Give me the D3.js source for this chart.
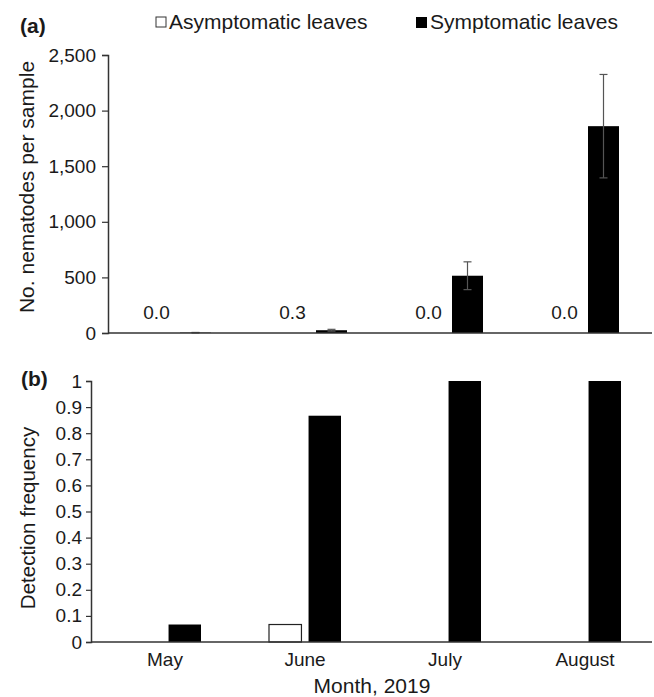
<!DOCTYPE html>
<html><head><meta charset="utf-8">
<script src="https://cdn.jsdelivr.net/npm/d3@7"></script>
<style>
body{margin:0;background:#fff;}
text{font-family:"Liberation Sans",Arial,sans-serif;fill:#1a1a1a;}
</style></head>
<body>
<svg id="c" width="654" height="697"></svg>
<script>
const months = ["May","June","July","August"];
const seriesNames = ["Asymptomatic leaves","Symptomatic leaves"];
const asymCount = [0.0, 0.3, 0.0, 0.0];
const symCount = [3, 25, 515, 1860];
const symCountErr = [2, 8, 125, 465];
const asymFreq = [0, 0.067, 0, 0];
const symFreq = [0.067, 0.867, 1, 1];
const countTicks = [0,500,1000,1500,2000,2500];
const freqTicks = [0,0.1,0.2,0.3,0.4,0.5,0.6,0.7,0.8,0.9,1];

const svg = d3.select("#c");
const axisColor = "#333";

// ---------- Panel (a) ----------
const xa = d3.scaleBand().domain(months).range([108, 652]);
const xa1 = d3.scaleBand().domain(["asym","sym"]).range([-35, 35]).paddingInner(8/39);
const ya = d3.scaleLinear().domain([0, 2500]).range([333, 55]);

const ga = svg.append("g");
ga.selectAll("rect.sym").data(months).join("rect")
  .attr("x", d => xa(d) + xa.bandwidth()/2 + xa1("sym"))
  .attr("width", xa1.bandwidth())
  .attr("y", (d,i) => ya(symCount[i]))
  .attr("height", (d,i) => ya(0) - ya(symCount[i]))
  .attr("fill", "#000");
const eb = ga.selectAll("g.err").data(months).join("g");
eb.each(function(d,i){
  const cx = xa(d) + xa.bandwidth()/2 + xa1("sym") + xa1.bandwidth()/2;
  const g = d3.select(this);
  const top = ya(symCount[i] + symCountErr[i]);
  const bot = ya(Math.max(0, symCount[i] - symCountErr[i]));
  g.append("line").attr("x1",cx).attr("x2",cx).attr("y1",top).attr("y2",bot)
    .attr("stroke","#555").attr("stroke-width",1.2);
  g.append("line").attr("x1",cx-4).attr("x2",cx+4).attr("y1",top).attr("y2",top)
    .attr("stroke","#555").attr("stroke-width",1.2);
  g.append("line").attr("x1",cx-4).attr("x2",cx+4).attr("y1",bot).attr("y2",bot)
    .attr("stroke","#555").attr("stroke-width",1.2);
});
ga.selectAll("text.val").data(months).join("text")
  .attr("x", d => xa(d) + xa.bandwidth()/2 + xa1("asym") + xa1.bandwidth()/2)
  .attr("y", 319)
  .attr("text-anchor","middle")
  .style("font-size","19px")
  .text((d,i) => asymCount[i].toFixed(1));

ga.append("g").attr("transform","translate(108,0)")
  .call(d3.axisLeft(ya).tickValues(countTicks).tickFormat(d3.format(",")).tickSizeOuter(0).tickSize(6).tickPadding(6));
ga.append("line").attr("x1",108).attr("x2",652).attr("y1",ya(0)).attr("y2",ya(0))
  .attr("stroke",axisColor).attr("stroke-width",1.5);

ga.append("text").attr("transform","translate(34,187) rotate(-90)")
  .attr("text-anchor","middle").style("font-size","21px").text("No. nematodes per sample");
ga.append("text").attr("x",20).attr("y",33).style("font-size","21px").style("font-weight","bold").text("(a)");

// legend
const leg = svg.append("g");
leg.append("rect").attr("x",156).attr("y",17).attr("width",10).attr("height",10)
  .attr("fill","#fff").attr("stroke","#333").attr("stroke-width",1);
leg.append("text").attr("x",169).attr("y",29).style("font-size","21px").text(seriesNames[0]);
leg.append("rect").attr("x",416).attr("y",17).attr("width",11).attr("height",11)
  .attr("fill","#000");
leg.append("text").attr("x",430).attr("y",29).style("font-size","21px").text(seriesNames[1]);

// ---------- Panel (b) ----------
const xb = d3.scaleBand().domain(months).range([93, 653]);
const xb1 = d3.scaleBand().domain(["asym","sym"]).range([-34, 38]).paddingInner(7/39);
const yb = d3.scaleLinear().domain([0, 1]).range([642, 381]);
const gb = svg.append("g");

gb.selectAll("rect.asym").data(months).join("rect")
  .attr("x", d => xb(d) + xb.bandwidth()/2 + xb1("asym"))
  .attr("width", xb1.bandwidth())
  .attr("y", (d,i) => yb(asymFreq[i]))
  .attr("height", (d,i) => yb(0) - yb(asymFreq[i]))
  .attr("fill", "#fff")
  .attr("stroke", (d,i) => asymFreq[i] > 0 ? "#222" : "none")
  .attr("stroke-width", 1.2);
gb.selectAll("rect.sym").data(months).join("rect")
  .attr("x", d => xb(d) + xb.bandwidth()/2 + xb1("sym"))
  .attr("width", xb1.bandwidth())
  .attr("y", (d,i) => yb(symFreq[i]))
  .attr("height", (d,i) => yb(0) - yb(symFreq[i]))
  .attr("fill", "#000");

gb.append("g").attr("transform","translate(91,0)")
  .call(d3.axisLeft(yb).tickValues(freqTicks).tickFormat(d => d3.format("~g")(d)).tickSizeOuter(0).tickSize(5).tickPadding(4));
gb.append("line").attr("x1",91).attr("x2",652).attr("y1",yb(0)).attr("y2",yb(0))
  .attr("stroke",axisColor).attr("stroke-width",1.5);
gb.selectAll("text.cat").data(months).join("text")
  .attr("x", d => xb(d) + xb.bandwidth()/2 + 2)
  .attr("y", 666)
  .attr("text-anchor","middle").style("font-size","19px").text(d => d);

gb.append("text").attr("x",372).attr("y",693).attr("text-anchor","middle")
  .style("font-size","21px").text("Month, 2019");
gb.append("text").attr("transform","translate(35,518) rotate(-90)")
  .attr("text-anchor","middle").style("font-size","20.5px").text("Detection frequency");
gb.append("text").attr("x",21).attr("y",386).style("font-size","21px").style("font-weight","bold").text("(b)");

svg.selectAll(".domain").attr("stroke",axisColor).attr("stroke-width",1.5);
svg.selectAll(".tick line").attr("stroke",axisColor).attr("stroke-width",1.2);
svg.selectAll(".tick text").style("font-size","19px").attr("fill","#1a1a1a")
  .style("font-family","'Liberation Sans',Arial,sans-serif");
</script>
</body></html>
